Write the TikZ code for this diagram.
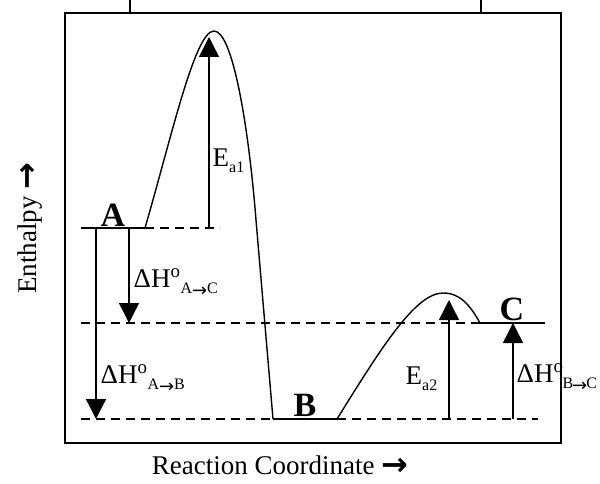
\documentclass[tikz,border=0pt]{standalone}
\usepackage{fontspec}
\setmainfont{Liberation Serif}
\newfontfamily\arrowfont{DejaVu Sans}
\usetikzlibrary{arrows.meta}
\newcommand{\lowtxt}[1]{\raisebox{-6pt}{\fontsize{16}{16}\selectfont #1}}
\newcommand{\subarr}{{\arrowfont\fontsize{18}{18}\selectfont\raisebox{-3pt}{→}}}
\newcommand{\axarr}{{\arrowfont\bfseries\fontsize{32}{32}\selectfont\raisebox{-1pt}{→}}}

\begin{document}
\begin{tikzpicture}[x=1pt, y=-1pt, line width=1.4pt,
    txt/.style={font=\fontsize{27}{30}\selectfont, inner sep=0pt},
    big/.style={font=\fontsize{34}{36}\selectfont\bfseries, inner sep=0pt},
    lvl/.style={line width=2.2pt, dash pattern=on 9pt off 6pt},
    harrow/.style={-{Triangle[width=20pt, length=20pt]}}]
            \useasboundingbox (0,0) rectangle (600,484);

            % frame and the two lines above it
            \coordinate (F1) at (65,13);
            \coordinate (F2) at (561,443);
            \draw (F1) rectangle (F2);
            \draw (130,0) -- (130,13);
            \draw (481,0) -- (481,13);

            % levels
            \coordinate (A) at (145,228);
            \coordinate (B1) at (273,419);
            \coordinate (B2) at (337,419);
            \coordinate (C) at (480,323);

            \draw (81,228) -- (A);
            \draw[lvl] (A) -- (220,228);
            \draw (B1) -- (B2);
            \draw[lvl] (81,419) -- (B1);
            \draw[lvl] (B2) -- (538,419);
            \draw (C) -- (545,323);
            \draw[lvl] (81,323) -- (C);

            % profile
            \draw (A) .. controls (172,135) and (195,31) .. (214,31)
                .. controls (232,31) and (248,120) .. (256,220) -- (B1);
            \draw (B2) .. controls (380,350) and (415,293) .. (443,293)
                .. controls (460,293) and (470,305) .. (C);

            \node[big, anchor=base] at (113,226) {A};
            \node[big, anchor=base] at (305,416) {B};
            \node[big, anchor=base] at (512,320) {C};

            % arrows
            \draw[harrow] (209,228) -- (209,37);
            \draw[harrow] (129,228) -- (129,323);
            \draw[harrow] (96,228) -- (96,419);
            \draw[harrow] (449,419) -- (449,300);
            \draw[harrow] (513,419) -- (513,323);

            \node[txt, anchor=base west] at (212,167) {E\lowtxt{a1}};
            \node[txt, anchor=base west] at (133,287) {ΔH\textsuperscript{o}\lowtxt{A\subarr C}};
            \node[txt, anchor=base west] at (100,383) {ΔH\textsuperscript{o}\lowtxt{A\subarr B}};
            \node[txt, anchor=base west] at (405,384) {E\lowtxt{a2}};
            \node[txt, anchor=base west] at (516,382) {ΔH\textsuperscript{o}\kern-1pt\lowtxt{B\kern-1pt\subarr\kern-1pt C}};

            \node[txt, rotate=90] at (30,228) {Enthalpy \axarr};
            \node[txt] at (280,466) {Reaction Coordinate \axarr};
        \end{tikzpicture}
\end{document}
